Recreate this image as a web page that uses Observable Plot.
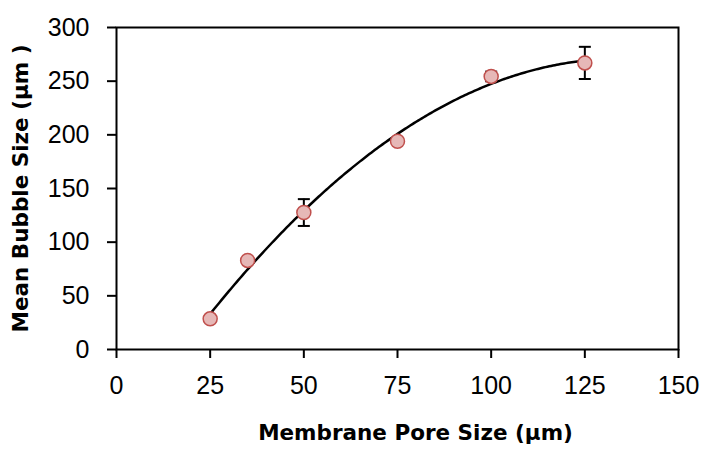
<!DOCTYPE html>
<html>
<head>
<meta charset="utf-8">
<script src="https://cdn.jsdelivr.net/npm/d3@7"></script>
<script src="https://cdn.jsdelivr.net/npm/@observablehq/plot@0.6"></script>
<style>
  html, body { margin: 0; padding: 0; background: #ffffff; }
  #chart svg { display: block; }
</style>
</head>
<body>
<div id="chart"></div>
<script>
// Data
const poreSize = [25, 35, 50, 75, 100, 125];
const bubbleSize = [28.6, 83, 127.6, 194, 254.4, 267];
const errorBar = [0, 0, 12.5, 0, 4.5, 15];
const xTicks = [0, 25, 50, 75, 100, 125, 150];
const yTicks = [0, 50, 100, 150, 200, 250, 300];
const xTitle = "Membrane Pore Size (µm)";
const yTitle = "Mean Bubble Size (µm )";

const points = poreSize.map((x, i) => ({x, y: bubbleSize[i], e: errorBar[i]}));
const errs = points.filter(d => d.e > 0);

// Second-order polynomial trendline (least squares fit of the data)
function quadFit(xs, ys) {
  let S = [0,0,0,0,0], T = [0,0,0];
  xs.forEach((x, i) => {
    for (let k = 0; k < 5; k++) S[k] += Math.pow(x, k);
    for (let k = 0; k < 3; k++) T[k] += Math.pow(x, k) * ys[i];
  });
  const A = [[S[0],S[1],S[2],T[0]],[S[1],S[2],S[3],T[1]],[S[2],S[3],S[4],T[2]]];
  for (let i = 0; i < 3; i++) {
    for (let j = i + 1; j < 3; j++) {
      const f = A[j][i] / A[i][i];
      for (let k = i; k < 4; k++) A[j][k] -= f * A[i][k];
    }
  }
  const c = [0,0,0];
  for (let i = 2; i >= 0; i--) {
    let s = A[i][3];
    for (let k = i + 1; k < 3; k++) s -= A[i][k] * c[k];
    c[i] = s / A[i][i];
  }
  return x => c[0] + c[1] * x + c[2] * x * x;
}
const fit = quadFit(poreSize, bubbleSize);
const xMin = d3.min(poreSize), xMax = d3.max(poreSize);
const curve = d3.range(0, 201).map(i => {
  const x = xMin + (xMax - xMin) * i / 200;
  return {x, y: fit(x)};
});

const capSymbol = {
  draw(ctx) { ctx.moveTo(-6, 0); ctx.lineTo(6, 0); }
};

const tickFont = "Liberation Sans, Arial, sans-serif";
const titleFont = "DejaVu Sans, Verdana, sans-serif";

const chart = Plot.plot({
  width: 701,
  height: 455,
  marginLeft: 116,
  marginRight: 23,
  marginTop: 27,
  marginBottom: 106,
  style: {background: "#ffffff", color: "#000000"},
  x: {domain: [0, 150], ticks: xTicks},
  y: {domain: [0, 300], ticks: yTicks},
  marks: [
    Plot.axisX({ticks: xTicks, tickSize: 9, tickPadding: 18, strokeWidth: 2, fontSize: 25, fontFamily: tickFont, label: null, tickFormat: d => String(d)}),
    Plot.axisY({ticks: yTicks, tickSize: 9, tickPadding: 18, strokeWidth: 2, fontSize: 25, fontFamily: tickFont, label: null, tickFormat: d => String(d)}),
    Plot.frame({stroke: "#000000", strokeWidth: 2}),
    Plot.line(curve, {x: "x", y: "y", stroke: "#000000", strokeWidth: 2.5, curve: "linear"}),
    Plot.ruleX(errs, {x: "x", y1: d => d.y - d.e, y2: d => d.y + d.e, stroke: "#000000", strokeWidth: 2}),
    Plot.dot(errs, {x: "x", y: d => d.y + d.e, symbol: capSymbol, stroke: "#000000", strokeWidth: 2, fill: "none"}),
    Plot.dot(errs, {x: "x", y: d => d.y - d.e, symbol: capSymbol, stroke: "#000000", strokeWidth: 2, fill: "none"}),
    Plot.dot(points, {x: "x", y: "y", r: 7, fill: "#e6b8b7", stroke: "#c0504d", strokeWidth: 1.5}),
    Plot.text([xTitle], {frameAnchor: "bottom", text: d => d, textAnchor: "middle", dy: 90, dx: 18, fontSize: 21.5, fontWeight: "bold", fontFamily: titleFont, fill: "#000000"}),
    Plot.text([yTitle], {frameAnchor: "left", text: d => d, textAnchor: "middle", dx: -95, rotate: -90, fontSize: 21.5, fontWeight: "bold", fontFamily: titleFont, fill: "#000000"})
  ]
});
document.getElementById("chart").appendChild(chart);
</script>
</body>
</html>
